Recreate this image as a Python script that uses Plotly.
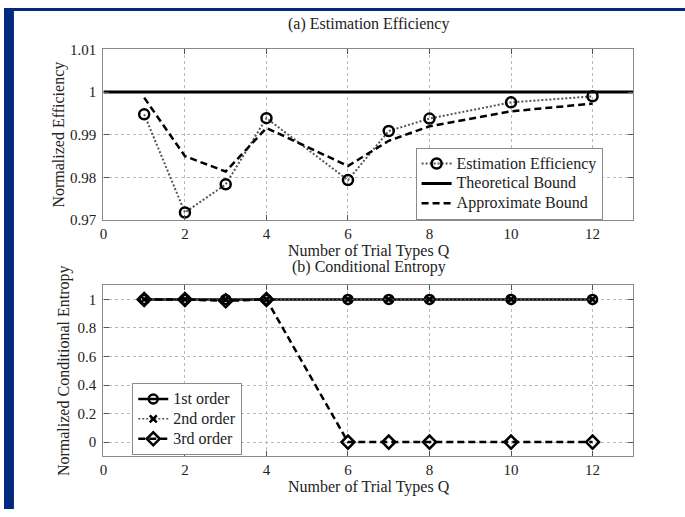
import plotly.graph_objects as go

# ---- data ----
Q = [1, 2, 3, 4, 6, 7, 8, 10, 12]
est_eff = [0.9948, 0.9718, 0.9784, 0.9939, 0.9794, 0.9909, 0.9938, 0.9976, 0.9990]
approx_bound = [0.9987, 0.9850, 0.9814, 0.9916, 0.9827, 0.9886, 0.9920, 0.9955, 0.9973]
theory_x = [0, 13]
theory_y = [1, 1]

first_order = [1, 1, 1, 1, 1, 1, 1, 1, 1]
second_order = [1, 1, 1, 1, 1, 1, 1, 1, 1]
third_order = [1, 1, 0.99, 1, 0, 0, 0, 0, 0]

x_ticks = [0, 2, 4, 6, 8, 10, 12]
top_y_ticks = [0.97, 0.98, 0.99, 1.0, 1.01]
top_y_text = ["0.97", "0.98", "0.99", "1", "1.01"]
bot_y_ticks = [0, 0.2, 0.4, 0.6, 0.8, 1.0]
bot_y_text = ["0", "0.2", "0.4", "0.6", "0.8", "1"]

top_names = ["Estimation Efficiency", "Theoretical Bound", "Approximate Bound"]
bot_names = ["1st order", "2nd order", "3rd order"]

FONT = "Liberation Serif, Times New Roman, serif"
W, H = 685, 517


def px(x):
    return x / W


def py(y):
    return 1 - y / H


def lname(s):
    # legend text at 16px while the legend row height follows a smaller font
    return '<span style="font-size:16px">' + s + '</span>'


fig = go.Figure()

fig.add_trace(go.Scatter(
    x=Q, y=est_eff, name=lname(top_names[0]), mode="lines+markers",
    line=dict(color="#555555", width=2, dash="2px,2px"),
    marker=dict(symbol="circle-open", size=10, color="black", line=dict(width=2.5, color="black")),
    xaxis="x", yaxis="y", legend="legend"))
fig.add_trace(go.Scatter(
    x=theory_x, y=theory_y, name=lname(top_names[1]), mode="lines",
    line=dict(color="black", width=3),
    xaxis="x", yaxis="y", legend="legend"))
fig.add_trace(go.Scatter(
    x=Q, y=approx_bound, name=lname(top_names[2]), mode="lines",
    line=dict(color="black", width=2.5, dash="7px,4px"),
    xaxis="x", yaxis="y", legend="legend"))

fig.add_trace(go.Scatter(
    x=Q, y=first_order, name=lname(bot_names[0]), mode="lines+markers",
    line=dict(color="black", width=2.5),
    marker=dict(symbol="circle-open", size=9, color="black", line=dict(width=2.5, color="black")),
    xaxis="x2", yaxis="y2", legend="legend2"))
fig.add_trace(go.Scatter(
    x=Q, y=second_order, name=lname(bot_names[1]), mode="lines+markers",
    line=dict(color="#555555", width=1.5, dash="2px,2px"),
    marker=dict(symbol="x-thin-open", size=7, color="black", line=dict(width=2.5, color="black")),
    xaxis="x2", yaxis="y2", legend="legend2"))
fig.add_trace(go.Scatter(
    x=Q, y=third_order, name=lname(bot_names[2]), mode="lines+markers",
    line=dict(color="black", width=2.5, dash="7px,4px"),
    marker=dict(symbol="diamond-open", size=10, color="black", line=dict(width=2.5, color="black")),
    xaxis="x2", yaxis="y2", legend="legend2"))

axis_common = dict(
    showline=True, linecolor="#8a8a8a", linewidth=1.2, mirror="ticks",
    ticks="inside", ticklen=5, tickcolor="#555555", tickwidth=1,
    showgrid=True, gridcolor="#b8b8b8", griddash="dot", gridwidth=1,
    zeroline=False, tickfont=dict(family=FONT, size=15, color="#222222"),
)

legend_common = dict(xanchor="left", yanchor="top",
                     bgcolor="white", bordercolor="#8a8a8a", borderwidth=1,
                     font=dict(family=FONT, size=13, color="#222222"),
                     itemwidth=30, tracegroupgap=0)

x_dom = [px(100), px(633)]
fig.update_layout(
    width=W, height=H,
    margin=dict(l=0, r=0, t=0, b=0),
    paper_bgcolor="white", plot_bgcolor="white",
    font=dict(family=FONT, color="#222222"),
    xaxis=dict(domain=x_dom, range=[0, 13], tickvals=x_ticks, anchor="y",
               ticklabelstandoff=0, **axis_common),
    yaxis=dict(domain=[py(219), py(42.7)], range=[0.97, 1.01], tickvals=top_y_ticks,
               ticktext=top_y_text, anchor="x", ticklabelstandoff=3, **axis_common),
    xaxis2=dict(domain=x_dom, range=[0, 13], tickvals=x_ticks, anchor="y2",
                ticklabelstandoff=0, **axis_common),
    yaxis2=dict(domain=[py(462.7), py(286)], range=[-0.1, 1.1], tickvals=bot_y_ticks,
                ticktext=bot_y_text, anchor="x2", ticklabelstandoff=3, **axis_common),
    legend=dict(x=px(414), y=py(144), **legend_common),
    legend2=dict(x=px(129), y=py(387), **legend_common),
    showlegend=True,
)

# blue frame strips
fig.add_shape(type="rect", xref="paper", yref="paper", x0=0, x1=px(10), y0=0, y1=1,
              fillcolor="#002a80", line=dict(width=0), layer="below")
fig.add_shape(type="rect", xref="paper", yref="paper", x0=0, x1=1, y0=py(3), y1=1,
              fillcolor="#002a80", line=dict(width=0), layer="below")

ann_font = dict(family=FONT, size=16, color="#222222")
annotations = [
    dict(text="(a) Estimation Efficiency", x=px(367), y=py(16)),
    dict(text="Number of Trial Types Q", x=px(367), y=py(250.5)),
    dict(text="(b) Conditional Entropy", x=px(367), y=py(267.5)),
    dict(text="Number of Trial Types Q", x=px(367), y=py(494)),
]
for a in annotations:
    fig.add_annotation(xref="paper", yref="paper", showarrow=False,
                       xanchor="center", yanchor="middle", font=ann_font, **a)
fig.add_annotation(text="Normalized Efficiency", xref="paper", yref="paper",
                   x=px(55), y=py(131), textangle=-90, showarrow=False,
                   xanchor="center", yanchor="middle", font=ann_font)
fig.add_annotation(text="Normalized Conditional Entropy", xref="paper", yref="paper",
                   x=px(61), y=py(374), textangle=-90, showarrow=False,
                   xanchor="center", yanchor="middle", font=ann_font)

fig.write_html("out.html")
